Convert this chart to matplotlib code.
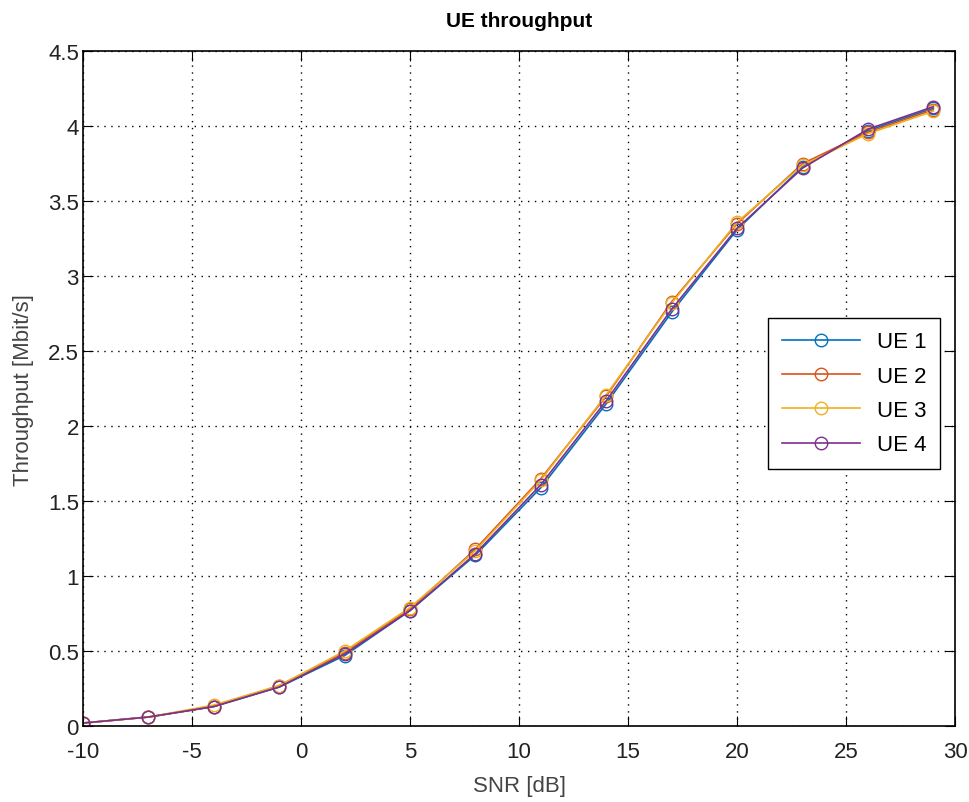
import numpy as np
import matplotlib
matplotlib.use("Agg")
import matplotlib.pyplot as plt

# --- Data ---
snr = [-10, -7, -4, -1, 2, 5, 8, 11, 14, 17, 20, 23, 26, 29]
ue1 = [0.02, 0.06, 0.13, 0.26, 0.47, 0.77, 1.14, 1.59, 2.15, 2.76, 3.31, 3.73, 3.97, 4.12]
ue2 = [0.02, 0.06, 0.13, 0.27, 0.49, 0.78, 1.18, 1.65, 2.20, 2.83, 3.35, 3.75, 3.96, 4.11]
ue3 = [0.02, 0.06, 0.14, 0.27, 0.50, 0.79, 1.17, 1.64, 2.21, 2.82, 3.36, 3.74, 3.95, 4.10]
ue4 = [0.02, 0.06, 0.13, 0.26, 0.48, 0.77, 1.15, 1.61, 2.17, 2.78, 3.32, 3.72, 3.98, 4.13]
labels = ["UE 1", "UE 2", "UE 3", "UE 4"]
colors = ["#0072BD", "#D95319", "#EDB120", "#7E2F8E"]

plt.rcParams['font.family'] = ['Liberation Sans', 'DejaVu Sans']
plt.rcParams['axes.unicode_minus'] = False

fig = plt.figure(figsize=(9.69, 8.03), dpi=100)
ax = fig.add_axes([0.0857, 0.0946, 0.9, 0.8404])

for y, lab, c in zip([ue1, ue2, ue3, ue4], labels, colors):
    ax.plot(snr, y, '-o', color=c, label=lab, lw=1.2,
            markersize=9, markerfacecolor='none', markeredgewidth=1.0)

ax.set_xlim(-10, 30)
ax.set_ylim(0, 4.5)
ax.set_xticks(np.arange(-10, 31, 5))
ax.set_yticks(np.arange(0, 4.51, 0.5))
ax.set_yticklabels(['0', '0.5', '1', '1.5', '2', '2.5', '3', '3.5', '4', '4.5'])
ax.grid(True, linestyle=(0, (1, 4)), color='black', linewidth=1.0)
ax.tick_params(direction='in', top=True, right=True, length=7, labelsize=16,
               labelcolor='#222222')
ax.tick_params(axis='x', pad=11)
ax.tick_params(axis='y', pad=3)
for s in ax.spines.values():
    s.set_linewidth(1.2)

ax.set_xlabel('SNR [dB]', fontsize=16, color='#444444', labelpad=9)
ax.set_ylabel('Throughput [Mbit/s]', fontsize=16, color='#444444', labelpad=10)
ax.set_title('UE throughput', fontsize=15, fontweight='bold', pad=18)

leg = ax.legend(loc='center right', bbox_to_anchor=(0.983, 0.493), fontsize=16,
                fancybox=False, edgecolor='black', framealpha=1, borderaxespad=0,
                handlelength=3.5, borderpad=0.6, labelspacing=0.6)
leg.get_frame().set_linewidth(1.0)

fig.savefig('out.png', dpi=100)
